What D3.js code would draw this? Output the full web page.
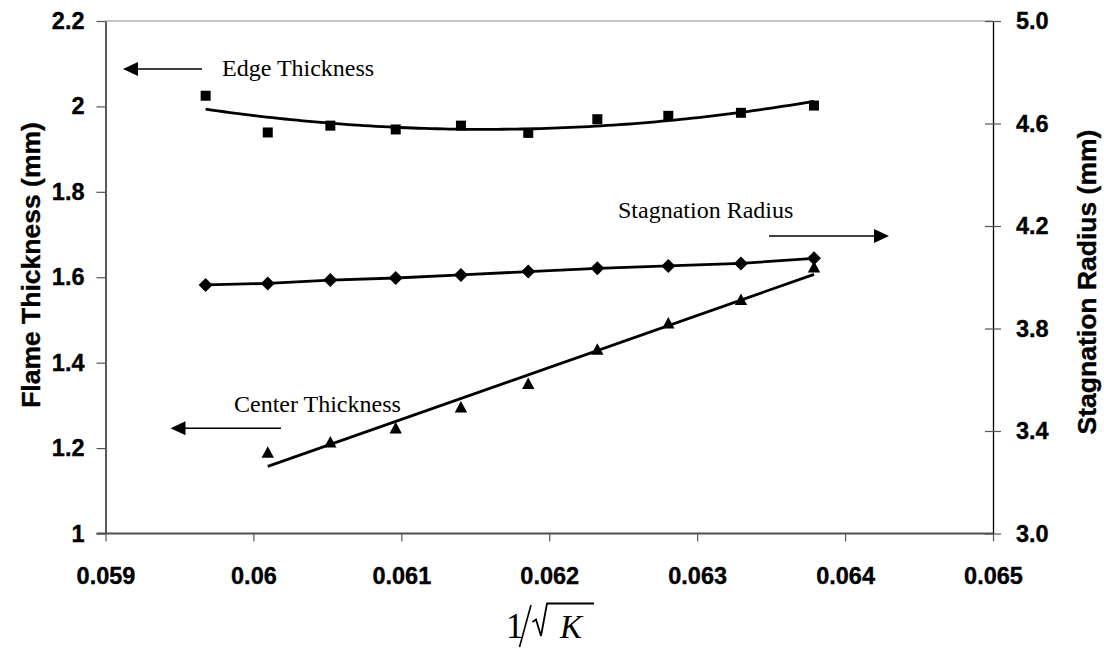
<!DOCTYPE html>
<html>
<head>
<meta charset="utf-8">
<script src="https://cdn.jsdelivr.net/npm/d3@7"></script>
<style>
  html, body { margin: 0; padding: 0; background: #fff; }
  svg { display: block; }
  .tick text { font-family: "Liberation Sans", Arial, sans-serif; font-weight: bold; font-size: 23.5px; fill: #000; stroke: #000; stroke-width: 0.35px; }
  .note { font-family: "Liberation Serif", "Times New Roman", serif; font-size: 24px; fill: #000; }
  .title { font-family: "Liberation Sans", Arial, sans-serif; font-weight: bold; font-size: 26.5px; fill: #000; stroke: #000; stroke-width: 0.35px; }
</style>
</head>
<body>
<svg id="chart" width="1104" height="650"></svg>
<script>
// 1/sqrt(K) values of the measurements
const invSqrtK = [0.059677, 0.060097, 0.060520, 0.060962, 0.061403, 0.061858, 0.062325, 0.062805, 0.063296, 0.063790];
// flame thickness at the edge (mm), left axis
const edgeThickness = [2.025, 1.939, 1.955, 1.946, 1.955, 1.938, 1.970, 1.978, 1.985, 2.002];
// flame thickness at the center (mm), left axis; no value at the first K
const centerThickness = [null, 1.189, 1.213, 1.246, 1.295, 1.350, 1.430, 1.492, 1.547, 1.623];
// stagnation radius (mm), right axis
const stagnationRadius = [3.970, 3.976, 3.989, 3.997, 4.009, 4.022, 4.035, 4.044, 4.054, 4.074];

const xTicks = [0.059, 0.060, 0.061, 0.062, 0.063, 0.064, 0.065];
const xTickLabels = ["0.059", "0.06", "0.061", "0.062", "0.063", "0.064", "0.065"];
const leftTicks = [1.0, 1.2, 1.4, 1.6, 1.8, 2.0, 2.2];
const leftTickLabels = ["1", "1.2", "1.4", "1.6", "1.8", "2", "2.2"];
const rightTicks = [3.0, 3.4, 3.8, 4.2, 4.6, 5.0];
const rightTickLabels = ["3.0", "3.4", "3.8", "4.2", "4.6", "5.0"];

const svg = d3.select("#chart");
const L = 105.5, R = 993, T = 21, B = 533.5;

const x = d3.scaleLinear().domain([0.059, 0.065]).range([L, R]);
const yL = d3.scaleLinear().domain([1.0, 2.2]).range([B, T]);
const yR = d3.scaleLinear().domain([3.0, 5.0]).range([B, T]);

// plot area top border
svg.append("line").attr("x1", L).attr("x2", R).attr("y1", T).attr("y2", T)
  .attr("stroke", "#8c8c8c").attr("stroke-width", 1.2);

// left axis
const gL = svg.append("g").attr("transform", `translate(${L},0)`)
  .call(d3.axisLeft(yL).tickValues(leftTicks).tickFormat((d, i) => leftTickLabels[i]).tickSize(9).tickSizeOuter(0).tickPadding(12));
gL.select(".domain").attr("stroke", "#000").attr("stroke-width", 1.3);
gL.selectAll(".tick line").attr("stroke", "#555").attr("stroke-width", 1.2);

// right axis, ticks crossing the line
const gR = svg.append("g").attr("transform", `translate(${R},0)`)
  .call(d3.axisRight(yR).tickValues(rightTicks).tickFormat((d, i) => rightTickLabels[i]).tickSize(8).tickSizeOuter(0).tickPadding(12));
gR.select(".domain").attr("stroke", "#000").attr("stroke-width", 1.3);
gR.selectAll(".tick line").attr("x1", -8).attr("stroke", "#555").attr("stroke-width", 1.2);
gR.selectAll(".tick text").attr("x", 23);

// bottom axis
const gB = svg.append("g").attr("transform", `translate(0,${B})`)
  .call(d3.axisBottom(x).tickValues(xTicks).tickFormat((d, i) => xTickLabels[i]).tickSize(8).tickSizeOuter(0));
gB.select(".domain").attr("stroke", "#505050").attr("stroke-width", 2.2)
  .attr("d", `M${L - 9},0H${R}`);
gB.selectAll(".tick line").attr("stroke", "#555").attr("stroke-width", 1.2);
gB.selectAll(".tick text").attr("y", 33.5);

// axis titles
svg.append("text").attr("class", "title")
  .attr("transform", "translate(40,265) rotate(-90)")
  .attr("text-anchor", "middle").text("Flame Thickness (mm)");
svg.append("text").attr("class", "title")
  .attr("transform", "translate(1096,282) rotate(-90)")
  .attr("text-anchor", "middle").text("Stagnation Radius (mm)");

// x axis title: 1/√K
const xt = svg.append("g");
xt.append("text").attr("x", 506).attr("y", 638)
  .attr("font-family", "Liberation Serif, Times New Roman, serif").attr("font-size", 35).text("1");
xt.append("path").attr("d", "M531,605 L519.5,647").attr("stroke", "#000").attr("stroke-width", 1.6).attr("fill", "none");
xt.append("path").attr("d", "M532.5,622 L536,619.5 L541,636 L547,603.5 L594,603.5")
  .attr("stroke", "#000").attr("stroke-width", 1.8).attr("fill", "none").attr("stroke-linejoin", "miter");
xt.append("text").attr("x", 560).attr("y", 638)
  .attr("font-family", "Liberation Serif, Times New Roman, serif").attr("font-style", "italic").attr("font-size", 33).text("K");

// least-squares polynomial fit helper
function polyFit(xs, ys, order) {
  const n = order + 1;
  const xm = d3.mean(xs);
  const A = Array.from({length: n}, () => new Array(n + 1).fill(0));
  xs.forEach((xv, k) => {
    const t = (xv - xm) * 1000;
    const pw = Array.from({length: 2 * n}, (_, p) => Math.pow(t, p));
    for (let i = 0; i < n; i++) {
      for (let j = 0; j < n; j++) A[i][j] += pw[i + j];
      A[i][n] += pw[i] * ys[k];
    }
  });
  for (let i = 0; i < n; i++) {
    let piv = i;
    for (let r = i + 1; r < n; r++) if (Math.abs(A[r][i]) > Math.abs(A[piv][i])) piv = r;
    [A[i], A[piv]] = [A[piv], A[i]];
    for (let r = 0; r < n; r++) {
      if (r === i) continue;
      const f = A[r][i] / A[i][i];
      for (let c = i; c <= n; c++) A[r][c] -= f * A[i][c];
    }
  }
  const coef = A.map((row, i) => row[n] / row[i]);
  return xv => { const t = (xv - xm) * 1000; return coef.reduce((s, c, p) => s + c * Math.pow(t, p), 0); };
}

// edge thickness: markers and quadratic trend line
const edgeFit = polyFit(invSqrtK, edgeThickness, 2);
const edgeCurve = d3.range(0, 101).map(i => {
  const xv = invSqrtK[0] + (invSqrtK[invSqrtK.length - 1] - invSqrtK[0]) * i / 100;
  return [x(xv), yL(edgeFit(xv))];
});
svg.append("path").attr("d", d3.line()(edgeCurve))
  .attr("fill", "none").attr("stroke", "#000").attr("stroke-width", 2.8);
svg.append("g").selectAll("rect").data(invSqrtK.map((d, i) => [d, edgeThickness[i]]))
  .join("rect")
  .attr("x", d => x(d[0]) - 5).attr("y", d => yL(d[1]) - 5)
  .attr("width", 10).attr("height", 10).attr("fill", "#000");

// center thickness: markers and linear trend line
const cIdx = centerThickness.map((v, i) => i).filter(i => centerThickness[i] !== null);
const cx = cIdx.map(i => invSqrtK[i]), cy = cIdx.map(i => centerThickness[i]);
const centerFit = polyFit(cx, cy, 1);
svg.append("line")
  .attr("x1", x(cx[0])).attr("y1", yL(centerFit(cx[0])))
  .attr("x2", x(cx[cx.length - 1])).attr("y2", yL(centerFit(cx[cx.length - 1])))
  .attr("stroke", "#000").attr("stroke-width", 2.8);
svg.append("g").selectAll("path").data(cIdx.map(i => [invSqrtK[i], centerThickness[i]]))
  .join("path")
  .attr("transform", d => `translate(${x(d[0])},${yL(d[1])})`)
  .attr("d", "M0,-6.5 L6.2,5 L-6.2,5 Z").attr("fill", "#000");

// stagnation radius: connected line with diamond markers (right axis)
svg.append("path")
  .attr("d", d3.line()(invSqrtK.map((d, i) => [x(d), yR(stagnationRadius[i])])))
  .attr("fill", "none").attr("stroke", "#000").attr("stroke-width", 2.8);
svg.append("g").selectAll("path").data(invSqrtK.map((d, i) => [d, stagnationRadius[i]]))
  .join("path")
  .attr("transform", d => `translate(${x(d[0])},${yR(d[1])})`)
  .attr("d", "M0,-7 L7,0 L0,7 L-7,0 Z").attr("fill", "#000");

// annotations with arrows pointing to the relevant axis
function arrow(x1, x2, y) {
  const dir = Math.sign(x2 - x1);
  svg.append("line").attr("x1", x1).attr("x2", x2 - dir * 12).attr("y1", y).attr("y2", y)
    .attr("stroke", "#000").attr("stroke-width", 1.6);
  svg.append("path").attr("d", `M${x2},${y} L${x2 - dir * 15},${y - 7} L${x2 - dir * 15},${y + 7} Z`).attr("fill", "#000");
}
svg.append("text").attr("class", "note").attr("x", 222).attr("y", 76).text("Edge Thickness");
arrow(202, 123, 69);
svg.append("text").attr("class", "note").attr("x", 618).attr("y", 218).text("Stagnation Radius");
arrow(769, 889, 236);
svg.append("text").attr("class", "note").attr("x", 234).attr("y", 411.5).text("Center Thickness");
arrow(281, 170.5, 428.3);
</script>
</body>
</html>
